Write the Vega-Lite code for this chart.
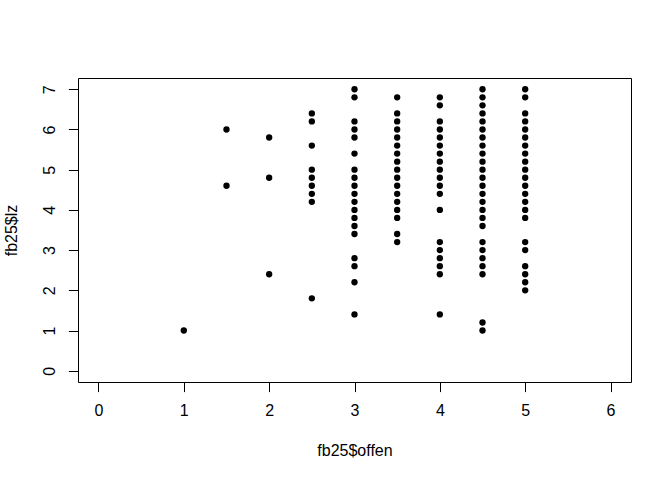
{
  "$schema": "https://vega.github.io/schema/vega-lite/v6.json",
  "width": 553,
  "height": 304,
  "autosize": {"type": "none"},
  "padding": {"left": 78, "top": 78, "right": 41, "bottom": 98},
  "background": "white",
  "config": {
    "view": {"stroke": "black", "strokeWidth": 1},
    "axis": {
      "grid": false,
      "domain": false,
      "tickColor": "black",
      "tickSize": 9.6,
      "tickWidth": 1,
      "labelFont": "Liberation Sans",
      "labelFontSize": 16,
      "labelColor": "black",
      "titleFont": "Liberation Sans",
      "titleFontSize": 16,
      "titleFontWeight": "normal",
      "titleColor": "black"
    }
  },
  "data": {
    "values": [
      {"offen": 1, "lz": 1.0},
      {"offen": 1.5, "lz": 6.0}, {"offen": 1.5, "lz": 4.6},
      {"offen": 2, "lz": 5.8}, {"offen": 2, "lz": 4.8}, {"offen": 2, "lz": 2.4},
      {"offen": 2.5, "lz": 6.4}, {"offen": 2.5, "lz": 6.2}, {"offen": 2.5, "lz": 5.6}, {"offen": 2.5, "lz": 5.0}, {"offen": 2.5, "lz": 4.8}, {"offen": 2.5, "lz": 4.6}, {"offen": 2.5, "lz": 4.4}, {"offen": 2.5, "lz": 4.2}, {"offen": 2.5, "lz": 1.8},
      {"offen": 3, "lz": 7.0}, {"offen": 3, "lz": 6.8}, {"offen": 3, "lz": 6.2}, {"offen": 3, "lz": 6.0}, {"offen": 3, "lz": 5.8}, {"offen": 3, "lz": 5.4}, {"offen": 3, "lz": 5.0}, {"offen": 3, "lz": 4.8}, {"offen": 3, "lz": 4.6}, {"offen": 3, "lz": 4.4}, {"offen": 3, "lz": 4.2}, {"offen": 3, "lz": 4.0}, {"offen": 3, "lz": 3.8}, {"offen": 3, "lz": 3.6}, {"offen": 3, "lz": 3.4}, {"offen": 3, "lz": 2.8}, {"offen": 3, "lz": 2.6}, {"offen": 3, "lz": 2.2}, {"offen": 3, "lz": 1.4},
      {"offen": 3.5, "lz": 6.8}, {"offen": 3.5, "lz": 6.4}, {"offen": 3.5, "lz": 6.2}, {"offen": 3.5, "lz": 6.0}, {"offen": 3.5, "lz": 5.8}, {"offen": 3.5, "lz": 5.6}, {"offen": 3.5, "lz": 5.4}, {"offen": 3.5, "lz": 5.2}, {"offen": 3.5, "lz": 5.0}, {"offen": 3.5, "lz": 4.8}, {"offen": 3.5, "lz": 4.6}, {"offen": 3.5, "lz": 4.4}, {"offen": 3.5, "lz": 4.2}, {"offen": 3.5, "lz": 4.0}, {"offen": 3.5, "lz": 3.8}, {"offen": 3.5, "lz": 3.4}, {"offen": 3.5, "lz": 3.2},
      {"offen": 4, "lz": 6.8}, {"offen": 4, "lz": 6.6}, {"offen": 4, "lz": 6.2}, {"offen": 4, "lz": 6.0}, {"offen": 4, "lz": 5.8}, {"offen": 4, "lz": 5.6}, {"offen": 4, "lz": 5.4}, {"offen": 4, "lz": 5.2}, {"offen": 4, "lz": 5.0}, {"offen": 4, "lz": 4.8}, {"offen": 4, "lz": 4.6}, {"offen": 4, "lz": 4.4}, {"offen": 4, "lz": 4.0}, {"offen": 4, "lz": 3.2}, {"offen": 4, "lz": 3.0}, {"offen": 4, "lz": 2.8}, {"offen": 4, "lz": 2.6}, {"offen": 4, "lz": 2.4}, {"offen": 4, "lz": 1.4},
      {"offen": 4.5, "lz": 7.0}, {"offen": 4.5, "lz": 6.8}, {"offen": 4.5, "lz": 6.6}, {"offen": 4.5, "lz": 6.4}, {"offen": 4.5, "lz": 6.2}, {"offen": 4.5, "lz": 6.0}, {"offen": 4.5, "lz": 5.8}, {"offen": 4.5, "lz": 5.6}, {"offen": 4.5, "lz": 5.4}, {"offen": 4.5, "lz": 5.2}, {"offen": 4.5, "lz": 5.0}, {"offen": 4.5, "lz": 4.8}, {"offen": 4.5, "lz": 4.6}, {"offen": 4.5, "lz": 4.4}, {"offen": 4.5, "lz": 4.2}, {"offen": 4.5, "lz": 4.0}, {"offen": 4.5, "lz": 3.8}, {"offen": 4.5, "lz": 3.6}, {"offen": 4.5, "lz": 3.2}, {"offen": 4.5, "lz": 3.0}, {"offen": 4.5, "lz": 2.8}, {"offen": 4.5, "lz": 2.6}, {"offen": 4.5, "lz": 2.4}, {"offen": 4.5, "lz": 1.2}, {"offen": 4.5, "lz": 1.0},
      {"offen": 5, "lz": 7.0}, {"offen": 5, "lz": 6.8}, {"offen": 5, "lz": 6.4}, {"offen": 5, "lz": 6.2}, {"offen": 5, "lz": 6.0}, {"offen": 5, "lz": 5.8}, {"offen": 5, "lz": 5.6}, {"offen": 5, "lz": 5.4}, {"offen": 5, "lz": 5.2}, {"offen": 5, "lz": 5.0}, {"offen": 5, "lz": 4.8}, {"offen": 5, "lz": 4.6}, {"offen": 5, "lz": 4.4}, {"offen": 5, "lz": 4.2}, {"offen": 5, "lz": 4.0}, {"offen": 5, "lz": 3.8}, {"offen": 5, "lz": 3.2}, {"offen": 5, "lz": 3.0}, {"offen": 5, "lz": 2.6}, {"offen": 5, "lz": 2.4}, {"offen": 5, "lz": 2.2}, {"offen": 5, "lz": 2.0}
    ]
  },
  "mark": {"type": "circle", "size": 40, "color": "black", "opacity": 1},
  "encoding": {
    "x": {
      "field": "offen",
      "type": "quantitative",
      "title": "fb25$offen",
      "scale": {"domain": [-0.24, 6.24], "nice": false, "zero": false},
      "axis": {"values": [0, 1, 2, 3, 4, 5, 6], "labelPadding": 11, "titlePadding": 24}
    },
    "y": {
      "field": "lz",
      "type": "quantitative",
      "title": "fb25$lz",
      "scale": {"domain": [-0.28, 7.28], "nice": false, "zero": false},
      "axis": {"values": [0, 1, 2, 3, 4, 5, 6, 7], "labelAngle": -90, "labelAlign": "center", "labelBaseline": "alphabetic", "labelPadding": 14, "titlePadding": 22}
    }
  }
}
